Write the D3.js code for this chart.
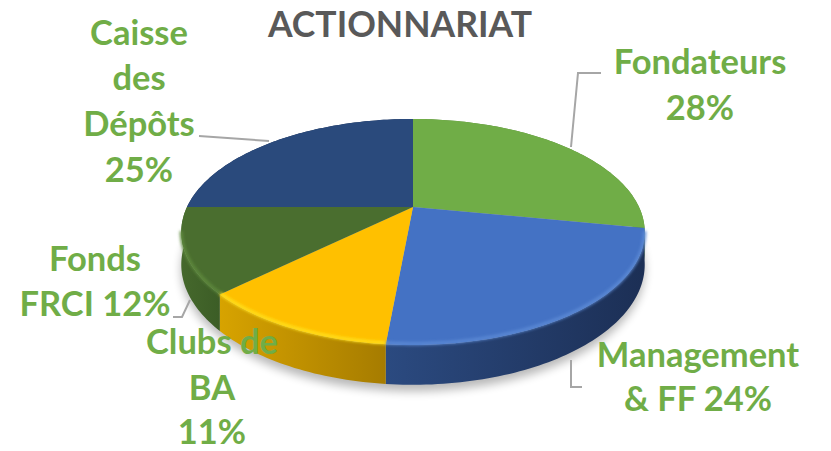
<!DOCTYPE html>
<html>
<head>
<meta charset="utf-8">
<script src="https://cdn.jsdelivr.net/npm/d3@7"></script>
<style>
html, body { margin: 0; padding: 0; background: #fff; }
text { font-family: Lato, "Open Sans", sans-serif; font-weight: 700; }
</style>
</head>
<body>
<div id="chart"></div>
<script>
const title = "ACTIONNARIAT";
const categories = ["Fondateurs", "Management & FF", "Clubs de BA", "Fonds FRCI", "Caisse des Dépôts"];
// labels show them rounded
const shares = [28, 23.5, 11.4, 12.1, 25];
const topColors = ["#70ad47", "#4472c4", "#ffc000", "#4a6e2f", "#2a4a7c"];
const rimColors = ["#86c25c", "#5c8ad6", "#ffe11a", "#5f8a3e", "#3a5f98"];
const wallColors = [["#5a8a3a", "#5a8a3a"], ["#2b4a80", "#1c2f55"], ["#d7a300", "#a67c00"], ["#45682c", "#3c5d26"], ["#1c2f55", "#1c2f55"]];

// text lines per slice, {p} is the rounded share
const labelLines = [["Fondateurs", "{p}%"], ["Management", "& FF {p}%"], ["Clubs de", "BA", "{p}%"], ["Fonds", "FRCI {p}%"], ["Caisse", "des", "Dépôts", "{p}%"]];

// where each label sits, and the leader line bent towards it
const labelLayout = [
	{x: 700, y: [74, 120], leader: [[571, 147], [578, 73], [601, 73]]},
	{x: 698, y: [367, 411], leader: [[571, 360], [571, 387], [582, 387]]},
	{x: 212, y: [354, 400, 443.5], leader: null},
	{x: 95, y: [271, 316], leader: [[190, 300], [182, 317], [173, 317]]},
	{x: 139, y: [45, 90, 136, 182], leader: [[269, 141], [199, 136]]}
];

const width = 831, height = 451;
const apexX = 413, apexY = 207;
const radiusX = 226, radiusY = 107.5, tilt = 0.221, wallDepth = 31;
// only this part of the rim faces the viewer
const frontStart = Math.PI - Math.acos(tilt), frontEnd = Math.PI + Math.acos(tilt);

var svg = d3.select("#chart").append("svg")
	.attr("width", width)
	.attr("height", height)
	.style("display", "block");

var defs = svg.append("defs");
defs.append("filter").attr("id", "soft").attr("x", "-20%").attr("y", "-20%").attr("width", "140%").attr("height", "140%")
	.append("feGaussianBlur").attr("stdDeviation", 5);
defs.append("filter").attr("id", "bevel").attr("filterUnits", "userSpaceOnUse").attr("x", 0).attr("y", 0).attr("width", width).attr("height", height)
	.append("feGaussianBlur").attr("stdDeviation", 1.4);

wallColors.forEach(function(c, i){
	var g = defs.append("linearGradient").attr("id", "wall" + i);
	g.append("stop").attr("offset", "0%").attr("stop-color", c[0]);
	g.append("stop").attr("offset", "100%").attr("stop-color", c[1]);
});

// the tilted disc is seen in perspective, so the apex is not the middle of the ellipse
function project(angle, drop){
	var u = Math.sin(angle), v = -Math.cos(angle);
	var s = 1 / (1 - tilt * v);
	return [apexX + radiusX * u * s, apexY + radiusY * v * s + drop * s];
}

function arcPoints(a0, a1, drop){
	var n = Math.max(2, Math.ceil((a1 - a0) / 0.02));
	return d3.range(n + 1).map(function(i){
		return project(a0 + (a1 - a0) * i / n, drop);
	});
}

var line = d3.line();
var slices = d3.pie().sort(null)(shares);

// soft shadow under the disc
svg.append("path")
	.attr("d", line(arcPoints(0, 2 * Math.PI, wallDepth + 5)) + "Z")
	.attr("fill", "#000")
	.attr("opacity", 0.28)
	.attr("filter", "url(#soft)");

// walls, the back parts end up hidden under the top face
svg.selectAll("path.wall")
	.data(slices)
	.enter()
	.append("path")
	.attr("class", "wall")
	.attr("d", function(d){
		return line(arcPoints(d.startAngle, d.endAngle, 0).concat(arcPoints(d.startAngle, d.endAngle, wallDepth).reverse())) + "Z";
	})
	.attr("fill", function(d, i){ return "url(#wall" + i + ")"; });

svg.selectAll("path.top")
	.data(slices)
	.enter()
	.append("path")
	.attr("class", "top")
	.attr("d", function(d){
		return line([[apexX, apexY]].concat(arcPoints(d.startAngle, d.endAngle, 0))) + "Z";
	})
	.attr("fill", function(d, i){ return topColors[i]; });

// bevel glow along the front edge
svg.selectAll("path.rim")
	.data(slices.filter(function(d){ return d.endAngle > frontStart && d.startAngle < frontEnd; }))
	.enter()
	.append("path")
	.attr("class", "rim")
	.attr("d", function(d){
		return line(arcPoints(Math.max(d.startAngle, frontStart), Math.min(d.endAngle, frontEnd), -1));
	})
	.attr("fill", "none")
	.attr("stroke", function(d){ return rimColors[d.index]; })
	.attr("stroke-width", 3)
	.attr("filter", "url(#bevel)");

// leaders go under the labels
svg.selectAll("path.leader")
	.data(labelLayout.filter(function(d){ return d.leader; }))
	.enter()
	.append("path")
	.attr("class", "leader")
	.attr("d", function(d){ return line(d.leader); })
	.attr("fill", "none")
	.attr("stroke", "#a6a6a6")
	.attr("stroke-width", 2);

svg.append("text")
	.attr("x", 400)
	.attr("y", 37)
	.attr("text-anchor", "middle")
	.attr("font-size", 35.5)
	.attr("fill", "#595959")
	.text(title);

categories.forEach(function(name, i){
	var pct = Math.round(shares[i]);
	svg.append("text")
		.attr("class", "label")
		.attr("data-category", name)
		.attr("text-anchor", "middle")
		.attr("font-size", 34.5)
		.attr("fill", "#70ad47")
		.selectAll("tspan")
		.data(labelLines[i])
		.enter()
		.append("tspan")
		.attr("x", labelLayout[i].x)
		.attr("y", function(d, j){ return labelLayout[i].y[j]; })
		.text(function(d){ return d.replace("{p}", pct); });
});
</script>
</body>
</html>
